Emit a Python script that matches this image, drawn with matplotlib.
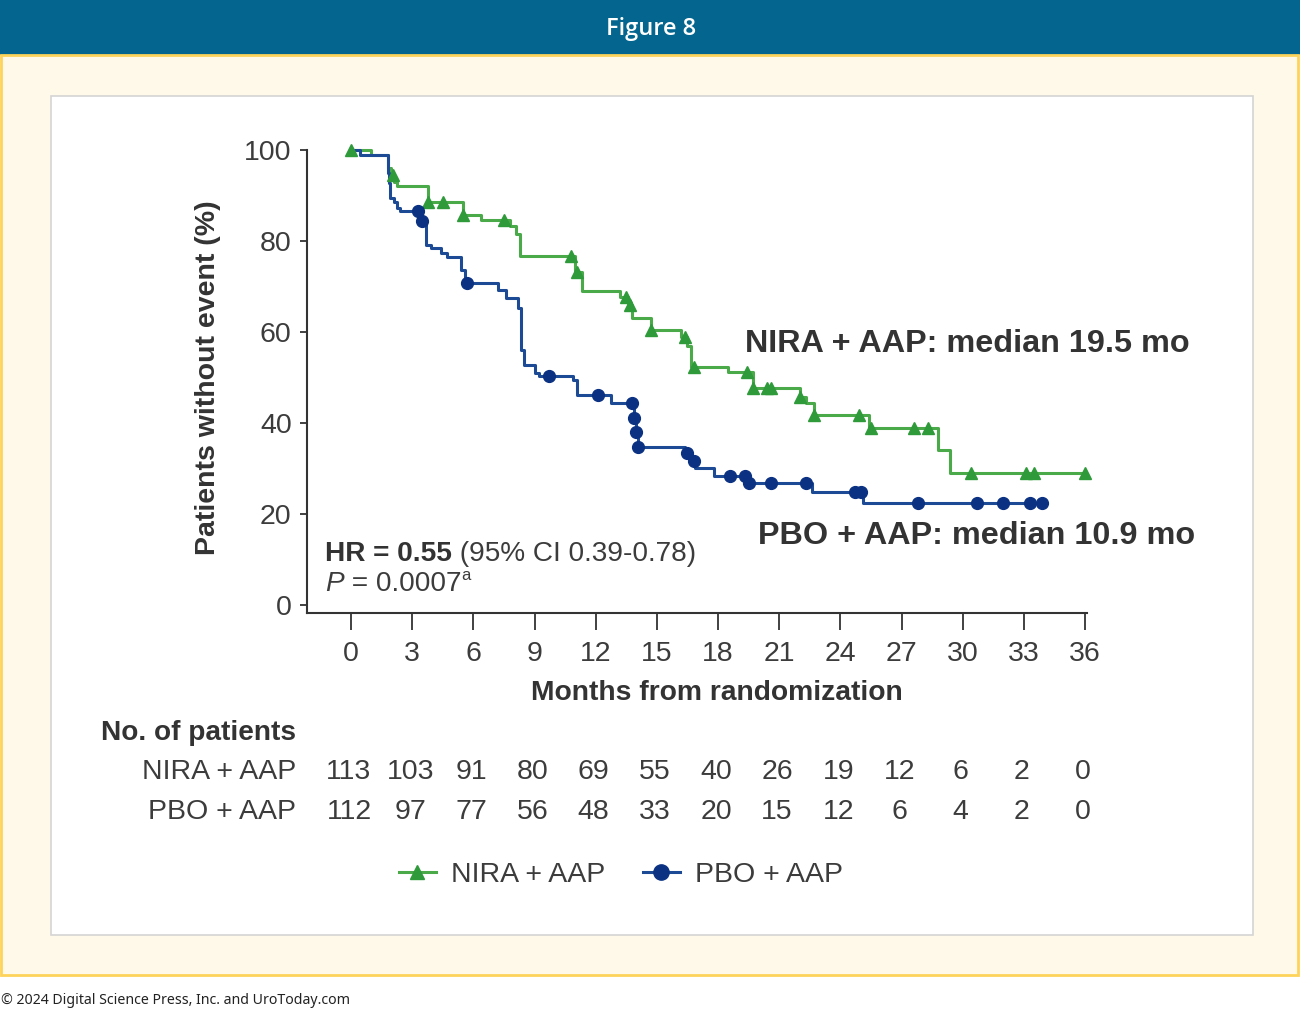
import numpy as np
import matplotlib.pyplot as plt
from matplotlib.patches import Rectangle
from matplotlib.lines import Line2D
from matplotlib.transforms import blended_transform_factory

plt.rcParams['font.family'] = ['Liberation Sans', 'DejaVu Sans']

# Kaplan-Meier curves (months, % without event)
nira_t = [0, 1.0, 1.8, 1.95, 2.1, 2.25, 3.8, 5.5, 6.4, 7.8, 8.1, 8.3, 11.0, 11.35,
          13.2, 13.6, 13.8, 14.7, 16.2, 16.5, 16.7, 18.5, 19.7, 22.0, 22.3, 22.7,
          25.4, 28.8, 29.4]
nira_s = [100, 99, 96, 94.5, 93, 92, 88.6, 85.7, 84.6, 83.3, 81.5, 76.7, 73.2, 69.0,
          67.7, 66.0, 63.0, 60.4, 59.0, 57.0, 52.3, 51.2, 47.7, 45.7, 44.4, 41.8,
          38.9, 34.1, 29.0]
nira_end = 36.0
nira_cens = [0, 2.05, 3.8, 4.5, 5.5, 7.5, 10.8, 11.1, 13.5, 13.7, 14.7, 16.4, 16.8,
             19.4, 19.7, 20.4, 20.6, 22.0, 22.7, 24.9, 25.5, 27.6, 28.3, 30.4, 33.1,
             33.5, 36.0]

pbo_t = [0, 0.45, 1.8, 1.85, 1.9, 2.1, 2.25, 2.4, 3.4, 3.7, 3.9, 4.4, 4.7, 5.4, 5.6,
         7.2, 7.6, 8.2, 8.35, 8.5, 9.0, 9.2, 10.9, 11.1, 12.75, 13.9, 14.0, 14.1,
         16.4, 16.7, 16.85, 17.8, 19.4, 22.6, 25.1]
pbo_s = [100, 98.9, 95, 92.7, 89.4, 88.6, 87.2, 86.6, 84.5, 79.1, 78.4, 77.4, 76.5,
         73.6, 70.8, 69.2, 67.5, 65.3, 56.0, 52.7, 51.0, 50.3, 49.5, 46.2, 44.4,
         41.0, 38.0, 34.7, 33.3, 31.6, 30.2, 28.3, 26.8, 24.8, 22.4]
pbo_end = 33.9
pbo_cens = [3.3, 3.5, 5.7, 9.7, 12.1, 13.8, 13.9, 14.0, 14.1, 16.5, 16.8, 18.6,
            19.3, 19.5, 20.6, 22.3, 24.7, 25.0, 27.8, 30.7, 32.0, 33.3, 33.9]

months = [0, 3, 6, 9, 12, 15, 18, 21, 24, 27, 30, 33, 36]
risk_nira = [113, 103, 91, 80, 69, 55, 40, 26, 19, 12, 6, 2, 0]
risk_pbo = [112, 97, 77, 56, 48, 33, 20, 15, 12, 6, 4, 2, 0]

green_line, green_mk = '#4aaa4a', '#2e9a3a'
blue_line, blue_mk = '#1c4a94', '#0b3282'
txt = '#3c3c3c'
dark = '#333333'
fs = 20.5

W, H = 1300, 1011
fig = plt.figure(figsize=(13, 10.11), dpi=100)
fig.patch.set_facecolor('white')


def fx(x):
    return x / W


def fy(y):
    return 1 - y / H


def rect(x0, y0, x1, y1, **kw):
    fig.add_artist(Rectangle((fx(x0), fy(y1)), fx(x1) - fx(x0), fy(y0) - fy(y1),
                             transform=fig.transFigure, **kw))


# frame
rect(0, 0, 1300, 55, facecolor='#04668e', edgecolor='none', zorder=0)
rect(1, 55, 1298, 975, facecolor='#fff9e9', edgecolor='#fdd35a', lw=2, zorder=0)
rect(51, 96, 1253, 935, facecolor='white', edgecolor='#d4d4d4', lw=1.2, zorder=0)
fig.text(fx(651), fy(29), 'Figure 8', color='white', fontsize=17, weight='semibold',
         family=['Open Sans', 'DejaVu Sans'], ha='center', va='center')
fig.text(fx(1), fy(1000), '\u00a9 2024 Digital Science Press, Inc. and UroToday.com',
         color='#222222', fontsize=10.2, family=['Noto Sans', 'DejaVu Sans'],
         ha='left', va='center')

# axes: x 0 -> px 351, 36 -> px 1085 ; y 0 -> px 605, 100 -> px 150
xpp = 734 / 36
ypp = 455 / 100
x_lo, x_hi = -(351 - 307) / xpp, 36 + 2 / xpp
y_lo, y_hi = -(613 - 605) / ypp, 102
ax = fig.add_axes([fx(307), fy(613), fx(1087) - fx(307), (613 - (605 - y_hi * ypp)) / H])
ax.set_facecolor('none')
ax.set_xlim(x_lo, x_hi)
ax.set_ylim(y_lo, y_hi)
ax.spines['top'].set_visible(False)
ax.spines['right'].set_visible(False)
ax.spines['left'].set_bounds(y_lo, 100)
for s in ['left', 'bottom']:
    ax.spines[s].set_color(dark)
    ax.spines[s].set_linewidth(1.5)
ax.set_xticks(months)
ax.set_yticks([0, 20, 40, 60, 80, 100])
ax.tick_params(axis='x', direction='out', length=12, width=1.3, pad=8,
               labelsize=fs, colors=dark, labelcolor=txt)
ax.tick_params(axis='y', direction='out', length=5, width=1.3, pad=6,
               labelsize=fs, colors=dark, labelcolor=txt)


def km(t, s, end, cens, lc, mc, marker, ms):
    tt = list(t) + [end]
    ss = list(s) + [s[-1]]
    ax.step(tt, ss, where='post', color=lc, lw=2.2, zorder=3, clip_on=False)
    idx = np.searchsorted(np.array(t), np.array(cens), side='right') - 1
    cy = np.array(s)[idx]
    ax.plot(cens, cy, ls='none', marker=marker, ms=ms, color=mc, mec=mc,
            zorder=4, clip_on=False)


km(nira_t, nira_s, nira_end, nira_cens, green_line, green_mk, '^', 8)
km(pbo_t, pbo_s, pbo_end, pbo_cens, blue_line, blue_mk, 'o', 8.5)

fig.text(fx(208), fy(378), 'Patients without event (%)', rotation=90, fontsize=20.5,
         weight='bold', color=dark, ha='center', va='center')
fig.text(fx(717), fy(693), 'Months from randomization', fontsize=20.3,
         weight='bold', color=dark, ha='center', va='center')
fig.text(fx(745), fy(344), 'NIRA + AAP: median 19.5 mo', fontsize=23.3,
         weight='bold', color=dark, ha='left', va='center')
fig.text(fx(758), fy(536), 'PBO + AAP: median 10.9 mo', fontsize=23.3,
         weight='bold', color=dark, ha='left', va='center')

t1 = fig.text(fx(325), fy(554), 'HR = 0.55', fontsize=20.2, weight='bold',
              color=dark, ha='left', va='center')
ax.annotate(' (95% CI 0.39-0.78)', xy=(1, 0.5), xycoords=t1, fontsize=20.2,
            color=txt, ha='left', va='center')
p1 = fig.text(fx(325), fy(584), 'P', fontsize=20.2, style='italic',
              color=txt, ha='left', va='center')
p2 = ax.annotate(' = 0.0007', xy=(1, 0.5), xycoords=p1, fontsize=20.2,
                 color=txt, ha='left', va='center')
ax.annotate('a', xy=(1, 0.55), xycoords=p2, fontsize=12, color=txt,
            ha='left', va='bottom')

# numbers at risk
tr = blended_transform_factory(ax.transData, fig.transFigure)
fig.text(fx(101), fy(733), 'No. of patients', fontsize=20.2, weight='bold',
         color=dark, ha='left', va='center')
fig.text(fx(296), fy(772), 'NIRA + AAP', fontsize=fs, color=txt,
         ha='right', va='center')
fig.text(fx(296), fy(812), 'PBO + AAP', fontsize=fs, color=txt,
         ha='right', va='center')
for m, a, b in zip(months, risk_nira, risk_pbo):
    ax.text(m - 0.1, fy(772), str(a), transform=tr, fontsize=fs, color=txt,
            ha='center', va='center')
    ax.text(m - 0.1, fy(812), str(b), transform=tr, fontsize=fs, color=txt,
            ha='center', va='center')

handles = [Line2D([], [], color=green_line, lw=2.2, marker='^', ms=10,
                  mfc=green_mk, mec=green_mk),
           Line2D([], [], color=blue_line, lw=2.2, marker='o', ms=11,
                  mfc=blue_mk, mec=blue_mk)]
fig.legend(handles, ['NIRA + AAP', 'PBO + AAP'], loc='center',
           bbox_to_anchor=(fx(621), fy(875)), ncol=2, frameon=False,
           fontsize=fs, handlelength=1.3, handletextpad=0.55, columnspacing=1.3,
           labelcolor=txt)

fig.savefig('out.png', dpi=100, facecolor='white')
